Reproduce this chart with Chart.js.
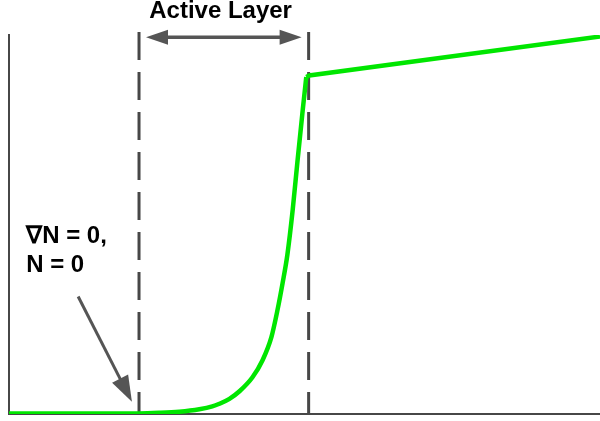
<!DOCTYPE html>
<html>
<head>
<meta charset="utf-8">
<script src="https://cdn.jsdelivr.net/npm/chart.js@4.4.1/dist/chart.umd.min.js"></script>
<style>
  html, body { margin: 0; padding: 0; background: #fff; }
  #wrap { width: 600px; height: 421px; position: relative; }
</style>
</head>
<body>
<div id="wrap"><canvas id="profile"></canvas></div>
<script>
// profile along depth (x 0..100), concentration (y 0..100)
const curveX = [0, 22.0, 25.4, 28.8, 32.2, 34.4, 35.6, 37.3, 39.0, 41.2, 42.9, 44.4, 45.4, 46.3, 47.1, 48.0, 48.8, 49.7, 50.3];
const curveY = [0.12, 0.15, 0.3, 0.6, 1.25, 2.0, 2.7, 4.0, 6.0, 9.7, 14.2, 20.3, 27.2, 34.6, 42.0, 53.8, 66.5, 80.2, 88.9];
const bulkX = [50.3, 50.8, 100];
const bulkY = [88.9, 89.3, 99.6];

// active layer edges
const layerEdges = [22.0, 50.7];
const layerLabel = 'Active Layer';
const bcLines = ['∇N = 0,', 'N = 0'];

const GREEN = '#00e600';
const GREY = '#474747';

const toPts = (xs, ys) => xs.map((x, i) => ({ x: x, y: ys[i] }));

function arrowHead(ctx, x1, y1, x2, y2, len, half) {
    const a = Math.atan2(y2 - y1, x2 - x1);
    ctx.beginPath();
    ctx.moveTo(x2, y2);
    ctx.lineTo(x2 - len * Math.cos(a) + half * Math.sin(a), y2 - len * Math.sin(a) - half * Math.cos(a));
    ctx.lineTo(x2 - len * Math.cos(a) - half * Math.sin(a), y2 - len * Math.sin(a) + half * Math.cos(a));
    ctx.closePath();
    ctx.fill();
}

const notes = {
    id: 'notes',
    beforeDatasetsDraw(chart) {
        const { ctx, scales: { x, y } } = chart;
        ctx.save();
        // dashed boundaries of the active layer
        ctx.strokeStyle = GREY;
        ctx.lineWidth = 3;
        ctx.setLineDash([28, 12]);
        layerEdges.forEach(v => {
            const px = x.getPixelForValue(v);
            ctx.beginPath();
            ctx.moveTo(px, y.getPixelForValue(100.8));
            ctx.lineTo(px, y.getPixelForValue(0));
            ctx.stroke();
        });
        ctx.restore();
    },
    afterDraw(chart) {
        const { ctx, scales: { x, y } } = chart;
        ctx.save();
        ctx.strokeStyle = '#555';
        ctx.fillStyle = '#555';
        ctx.lineWidth = 3.5;

        // double arrow across the layer
        const ay = y.getPixelForValue(99.4);
        const ax1 = x.getPixelForValue(layerEdges[0]) + 7;
        const ax2 = x.getPixelForValue(layerEdges[1]) - 7;
        ctx.beginPath();
        ctx.moveTo(ax1 + 14, ay);
        ctx.lineTo(ax2 - 14, ay);
        ctx.stroke();
        arrowHead(ctx, ax2 - 22, ay, ax2, ay, 22, 7.5);
        arrowHead(ctx, ax1 + 22, ay, ax1, ay, 22, 7.5);

        // pointer to the lower boundary
        ctx.lineWidth = 3;
        const sx = x.getPixelForValue(11.7), sy = y.getPixelForValue(31.0);
        const tx = x.getPixelForValue(20.8), ty = y.getPixelForValue(3.2);
        const ang = Math.atan2(ty - sy, tx - sx);
        ctx.beginPath();
        ctx.moveTo(sx, sy);
        ctx.lineTo(tx - 18 * Math.cos(ang), ty - 18 * Math.sin(ang));
        ctx.stroke();
        arrowHead(ctx, sx, sy, tx, ty, 26, 9);

        // labels
        ctx.fillStyle = '#000';
        ctx.font = 'bold 24px "Liberation Sans", Arial, sans-serif';
        ctx.textAlign = 'center';
        ctx.textBaseline = 'alphabetic';
        ctx.fillText(layerLabel, x.getPixelForValue(35.8), y.getPixelForValue(104.5));
        ctx.textAlign = 'left';
        ctx.fillText(bcLines[0], x.getPixelForValue(2.9), y.getPixelForValue(45.1));
        ctx.fillText(bcLines[1], x.getPixelForValue(2.9), y.getPixelForValue(37.5));
        ctx.restore();
    }
};

const ctx = document.getElementById('profile').getContext('2d');
const profileChart = new Chart(ctx, {
    type: 'line',
    data: {
        datasets: [
            { data: toPts(curveX, curveY), borderColor: GREEN, borderWidth: 4.5, pointRadius: 0, cubicInterpolationMode: 'monotone', fill: false },
            { data: toPts(bulkX, bulkY), borderColor: GREEN, borderWidth: 4.5, pointRadius: 0, tension: 0, fill: false }
        ]
    },
    options: {
        responsive: true, maintainAspectRatio: false,
        animation: false,
        layout: { padding: { left: 9, right: 0, top: 35, bottom: 7 } },
        plugins: { legend: { display: false }, tooltip: { enabled: false } },
        scales: {
            x: { type: 'linear', min: 0, max: 100, grid: { display: false, drawTicks: false }, ticks: { display: false }, border: { display: true, color: GREY, width: 2 } },
            y: { type: 'linear', min: 0, max: 100, grid: { display: false, drawTicks: false }, ticks: { display: false }, border: { display: true, color: GREY, width: 2 } }
        }
    },
    plugins: [notes]
});
</script>
</body>
</html>
